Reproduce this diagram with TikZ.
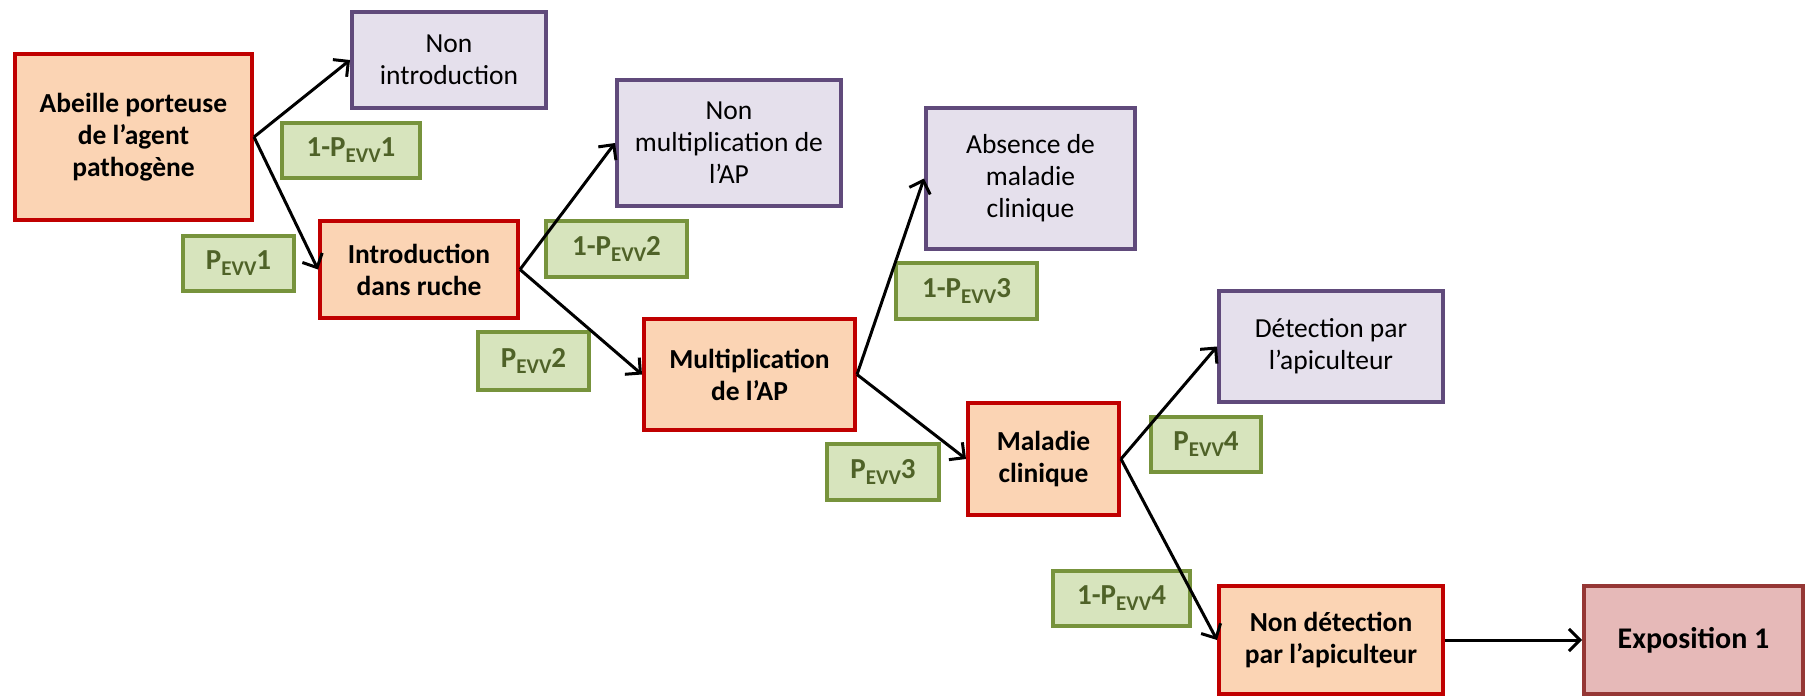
\documentclass[tikz,border=0pt]{standalone}
\usepackage{fontspec}
\setmainfont{Carlito}
\usetikzlibrary{arrows.meta}
\definecolor{orfill}{HTML}{FBD4B4}
\definecolor{ordraw}{HTML}{C00000}
\definecolor{pufill}{HTML}{E5E0EC}
\definecolor{pudraw}{HTML}{604A7B}
\definecolor{grfill}{HTML}{D7E4BD}
\definecolor{grdraw}{HTML}{77933C}
\definecolor{grtext}{HTML}{4F6228}
\definecolor{exfill}{HTML}{E6B9B8}
\definecolor{exdraw}{HTML}{953735}
\tikzset{
  base/.style={rectangle, line width=4pt, align=center, inner sep=2pt,
    font=\fontsize{27.5}{32}\selectfont},
  orbox/.style={base, fill=orfill, draw=ordraw, font=\fontsize{27.5}{32}\selectfont\bfseries},
  pubox/.style={base, fill=pufill, draw=pudraw},
  grbox/.style={base, fill=grfill, draw=grdraw, text=grtext, font=\fontsize{29}{32}\selectfont\bfseries},
  exbox/.style={base, fill=exfill, draw=exdraw, font=\fontsize{30}{34}\selectfont\bfseries},
  conn/.style={line width=3pt, -{Straight Barb[length=11pt,width=22pt]}},
}
\newcommand{\pevv}{P\raisebox{-6pt}{\fontsize{21}{21}\selectfont EVV}}
\begin{document}
\begin{tikzpicture}[x=1pt,y=-1pt]
\useasboundingbox (0,0) rectangle (1805,696);
% orange
\node[orbox, minimum width=237pt, minimum height=166pt] (abeille) at (133.5,137) {Abeille porteuse\\de l’agent\\pathogène};
\node[orbox, minimum width=198pt, minimum height=97pt] (intro) at (419,269.5) {Introduction\\dans ruche};
\node[orbox, minimum width=211pt, minimum height=111pt] (mult) at (749.5,374.5) {Multiplication\\de l’AP};
\node[orbox, minimum width=151pt, minimum height=112pt] (maladie) at (1043.5,459) {Maladie\\clinique};
\node[orbox, minimum width=224pt, minimum height=108pt] (nondet) at (1331,640) {Non détection\\par l’apiculteur};
\node[exbox, minimum width=219pt, minimum height=108pt] (expo) at (1693.5,640) {Exposition 1};
% purple
\node[pubox, minimum width=194pt, minimum height=96pt] (nonintro) at (449,60) {Non\\introduction};
\node[pubox, minimum width=224pt, minimum height=126pt] (nonmult) at (729,143) {Non\\multiplication de\\l’AP};
\node[pubox, minimum width=209pt, minimum height=141pt] (absence) at (1030.5,178.5) {Absence de\\maladie\\clinique};
\node[pubox, minimum width=224pt, minimum height=111pt] (detect) at (1331,346.5) {Détection par\\l’apiculteur};
% green labels
\node[grbox, minimum width=138pt, minimum height=55pt] (g1) at (351,150.5) {1-\pevv1};
\node[grbox, minimum width=111pt, minimum height=55pt] (g1b) at (238.5,263.5) {\pevv1};
\node[grbox, minimum width=141pt, minimum height=56pt] (g2) at (616.5,249) {1-\pevv2};
\node[grbox, minimum width=111pt, minimum height=58pt] (g2b) at (533.5,361) {\pevv2};
\node[grbox, minimum width=141pt, minimum height=56pt] (g3) at (966.5,291) {1-\pevv3};
\node[grbox, minimum width=112pt, minimum height=56pt] (g3b) at (883,472) {\pevv3};
\node[grbox, minimum width=110pt, minimum height=55pt] (g4) at (1206,444.5) {\pevv4};
\node[grbox, minimum width=137pt, minimum height=55pt] (g4b) at (1121.5,598.5) {1-\pevv4};
% connectors
\draw[conn] (abeille.east) -- (nonintro.west);
\draw[conn] (abeille.east) -- (intro.west);
\draw[conn] (intro.east) -- (nonmult.west);
\draw[conn] (intro.east) -- (mult.west);
\draw[conn] (mult.east) -- (absence.west);
\draw[conn] (mult.east) -- (maladie.west);
\draw[conn] (maladie.east) -- (detect.west);
\draw[conn] (maladie.east) -- (nondet.west);
\draw[conn] (nondet.east) -- (expo.west);
\end{tikzpicture}
\end{document}
